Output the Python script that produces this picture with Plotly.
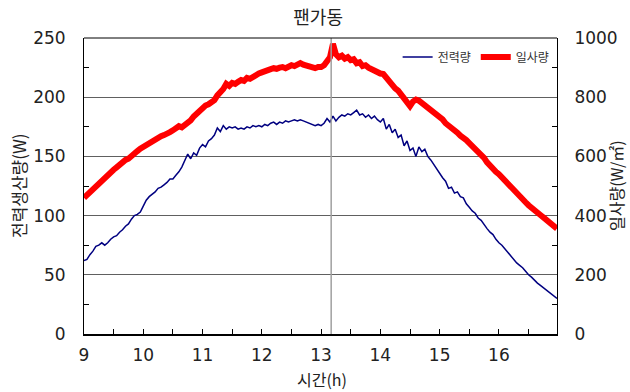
import plotly.graph_objects as go

hours = [9.00, 9.05, 9.10, 9.15, 9.20, 9.25, 9.30, 9.35, 9.40, 9.45,
         9.50, 9.55, 9.60, 9.65, 9.70, 9.75, 9.80, 9.85, 9.90, 9.95,
         10.00, 10.05, 10.10, 10.15, 10.20, 10.25, 10.30, 10.35, 10.40, 10.45,
         10.50, 10.55, 10.60, 10.65, 10.70, 10.75, 10.80, 10.85, 10.90, 10.95,
         11.00, 11.05, 11.10, 11.15, 11.20, 11.25, 11.30, 11.35, 11.40, 11.45,
         11.50, 11.55, 11.60, 11.65, 11.70, 11.75, 11.80, 11.85, 11.90, 11.95,
         12.00, 12.05, 12.10, 12.15, 12.20, 12.25, 12.30, 12.35, 12.40, 12.45,
         12.50, 12.55, 12.60, 12.65, 12.70, 12.75, 12.80, 12.85, 12.90, 12.95,
         13.00, 13.05, 13.10, 13.15, 13.20, 13.25, 13.30, 13.35, 13.40, 13.45,
         13.50, 13.55, 13.60, 13.65, 13.70, 13.75, 13.80, 13.85, 13.90, 13.95,
         14.00, 14.05, 14.10, 14.15, 14.20, 14.25, 14.30, 14.35, 14.40, 14.45,
         14.50, 14.55, 14.60, 14.65, 14.70, 14.75, 14.80, 14.85, 14.90, 14.95,
         15.00, 15.05, 15.10, 15.15, 15.20, 15.25, 15.30, 15.35, 15.40, 15.45,
         15.50, 15.55, 15.60, 15.65, 15.70, 15.75, 15.80, 15.85, 15.90, 15.95,
         16.00, 16.05, 16.10, 16.15, 16.20, 16.25, 16.30, 16.35, 16.40, 16.45,
         16.50, 16.55, 16.60, 16.65, 16.70, 16.75, 16.80, 16.85, 16.90, 16.95,
         16.98]

power_w = [62, 63, 67, 70, 74, 75, 77, 75, 77, 80,
           82, 83, 86, 88, 91, 93, 97, 100, 101, 103,
           108, 113, 116, 118, 120, 123, 124, 126, 128, 131,
           131, 134, 137, 141, 146, 152, 148, 153, 151, 157,
           160, 158, 163, 165, 168, 174, 171, 176, 173, 175,
           174, 175, 173, 174, 173, 175, 174, 176, 175, 176,
           175, 177, 176, 178, 179, 177, 179, 178, 180, 179,
           180, 181, 180, 181, 180, 179, 178, 177, 176, 177,
           176, 178, 182, 179, 184, 180, 183, 185, 184, 186,
           185, 187, 189, 185, 186, 183, 185, 182, 184, 181,
           179, 182, 173, 177, 170, 173, 166, 168, 159, 163,
           155, 157, 150, 158, 154, 156, 150, 147, 143, 140,
           136, 132, 129, 123, 124, 119, 120, 116, 115, 110,
           107, 104, 102, 98, 96, 92, 89, 86, 84, 80,
           77, 75, 72, 69, 66, 63, 60, 58, 56, 53,
           50, 48, 45, 43, 41, 39, 37, 35, 33, 31,
           30]

irradiance = [460, 470, 482, 490, 502, 508, 520, 526, 538, 545,
              555, 563, 572, 578, 588, 592, 603, 610, 618, 626,
              632, 642, 648, 654, 660, 663, 668, 672, 675, 682,
              688, 694, 702, 698, 706, 712, 722, 735, 745, 752,
              760, 772, 776, 784, 790, 806, 815, 828, 845, 838,
              848, 845, 852, 858, 855, 865, 862, 870, 876, 880,
              884, 889, 892, 895, 898, 896, 900, 902, 898, 906,
              908, 905, 912, 915, 910, 907, 904, 900, 898, 902,
              902, 908, 918, 935, 980, 945, 935, 940, 930, 935,
              925, 928, 915, 918, 905, 908, 900, 895, 890, 882,
              880, 878, 865, 858, 845, 830, 822, 810, 795, 780,
              770, 785, 792, 788, 780, 770, 766, 758, 752, 742,
              735, 725, 712, 705, 695, 688, 680, 670, 664, 655,
              645, 636, 625, 615, 605, 595, 580, 568, 556, 548,
              540, 530, 522, 510, 500, 488, 478, 468, 456, 445,
              435, 425, 418, 410, 402, 394, 385, 376, 368, 362,
              356]

x_ticks = [9, 10, 11, 12, 13, 14, 15, 16]
y_ticks = [0, 50, 100, 150, 200, 250]
y2_ticks = [0, 200, 400, 600, 800, 1000]
marker_hour = 13.17

KFONT = "Noto Sans CJK KR, sans-serif"
NFONT = "DejaVu Sans, sans-serif"
TXT = "#222222"

fig = go.Figure()
fig.add_trace(go.Scatter(x=hours, y=power_w, name="전력량", mode="lines",
                         line=dict(color="#000080", width=1.5)))
fig.add_trace(go.Scatter(x=hours, y=irradiance, name="일사량", mode="lines",
                         yaxis="y2", line=dict(color="#ff0000", width=6)))

fig.add_shape(type="line", xref="x", yref="paper", x0=marker_hour, x1=marker_hour,
              y0=0, y1=1, line=dict(color="#a0a0a0", width=1.5))
fig.add_shape(type="line", xref="paper", yref="paper", x0=0, x1=1, y0=1, y1=1,
              line=dict(color="#000", width=1))

fig.update_layout(
    width=630, height=392,
    margin=dict(l=84, r=73, t=38, b=58, autoexpand=False),
    paper_bgcolor="white", plot_bgcolor="white",
    font=dict(family=KFONT, size=16, color=TXT),
    title=dict(text="팬가동", x=0.505, xanchor="center", y=0.954, yanchor="middle",
               font=dict(family=KFONT, size=18, color=TXT)),
    showlegend=True,
    legend=dict(orientation="h", x=0.995, xanchor="right", y=0.985, yanchor="top",
                bgcolor="rgba(0,0,0,0)", font=dict(family=KFONT, size=12, color="#333"),
                itemwidth=30, tracegroupgap=0),
    xaxis=dict(range=[9, 16.98], tickvals=x_ticks, ticks="inside", ticklen=5,
               tickcolor="#000", showgrid=False, zeroline=False,
               showline=True, linecolor="#000", linewidth=2,
               ticklabelstandoff=5,
               minor=dict(dtick=0.5, tick0=9, ticks="inside", ticklen=5, tickcolor="#000"),
               tickfont=dict(family=NFONT, size=17, color=TXT)),
    yaxis=dict(range=[0, 250], tickvals=y_ticks,
               showgrid=True, gridcolor="#606060", gridwidth=1, zeroline=False,
               showline=True, linecolor="#000", linewidth=1, ticks="",
               ticklabelstandoff=14,
               minor=dict(tickvals=[25, 75, 125, 175, 225], ticks="inside",
                          ticklen=5, tickcolor="#000", showgrid=False),
               tickfont=dict(family=NFONT, size=17, color=TXT)),
    yaxis2=dict(range=[0, 1000], tickvals=y2_ticks,
                overlaying="y", side="right", showgrid=False, zeroline=False,
                showline=True, linecolor="#000", linewidth=1, ticks="",
                ticklabelstandoff=13,
                minor=dict(tickvals=[100, 300, 500, 700, 900], ticks="inside",
                           ticklen=5, tickcolor="#000", showgrid=False),
                tickfont=dict(family=NFONT, size=17, color=TXT)),
    annotations=[
        dict(text="전력생산량(W)", xref="paper", yref="paper", x=(18 - 84) / 473, y=0.5,
             xanchor="center", yanchor="middle", textangle=-90, showarrow=False,
             font=dict(family=KFONT, size=17, color=TXT)),
        dict(text="일사량(W/㎡)", xref="paper", yref="paper", x=(616 - 84) / 473, y=0.5,
             xanchor="center", yanchor="middle", textangle=-90, showarrow=False,
             font=dict(family=KFONT, size=16, color=TXT)),
        dict(text="시간(h)", xref="paper", yref="paper", x=(322 - 84) / 473,
             y=(334 - 379) / 296, xanchor="center", yanchor="middle", showarrow=False,
             font=dict(family=KFONT, size=16, color=TXT)),
    ],
)

fig.write_html("out.html")
